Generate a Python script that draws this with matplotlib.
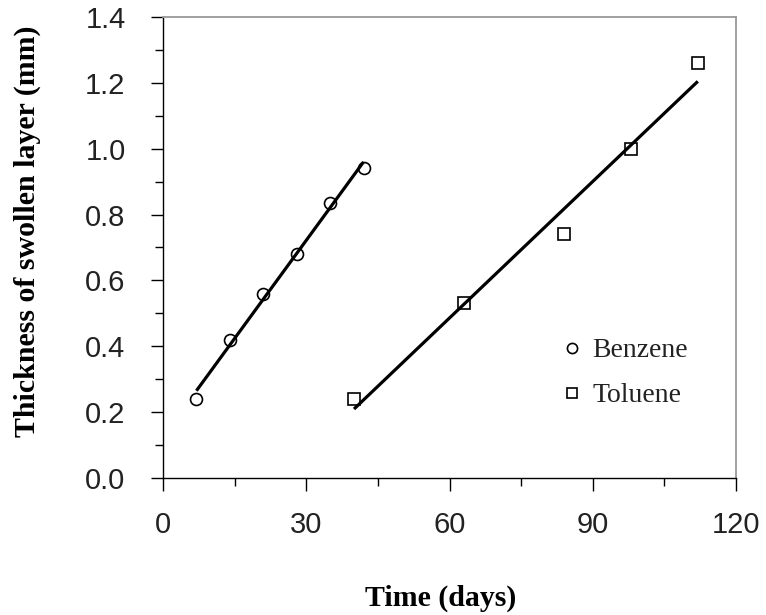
import numpy as np
import matplotlib
matplotlib.use("Agg")
import matplotlib.pyplot as plt
from matplotlib.ticker import MultipleLocator

# measured swelling data
benzene_days = [7, 14, 21, 28, 35, 42]
benzene_mm = [0.24, 0.42, 0.56, 0.68, 0.835, 0.94]

toluene_days = [40, 63, 84, 98, 112]
toluene_mm = [0.24, 0.53, 0.74, 1.00, 1.26]

x_ticks = [0, 30, 60, 90, 120]
y_ticks = [0.0, 0.2, 0.4, 0.6, 0.8, 1.0, 1.2, 1.4]

plt.rcParams["font.family"] = "Liberation Sans"

fig = plt.figure(figsize=(7.66, 6.15), dpi=100)
ax = fig.add_axes([163/766, 1-478/615, (736-163)/766, (478-17)/615])

# straight-line fits through each set
for xs, ys in [(benzene_days, benzene_mm), (toluene_days, toluene_mm)]:
    slope, icpt = np.polyfit(xs, ys, 1)
    xf = np.array([xs[0], xs[-1]])
    ax.plot(xf, slope*xf + icpt, color="black", lw=2.3, solid_capstyle="butt", zorder=2)

ax.plot(benzene_days, benzene_mm, "o", ms=8.6, mfc="none", mec="black", mew=1.2,
        label="Benzene", zorder=3)
ax.plot(toluene_days, toluene_mm, "s", ms=8.4, mfc="none", mec="black", mew=1.2,
        label="Toluene", zorder=3)

ax.set_xlim(0, 120)
ax.set_ylim(0, 1.4)
ax.set_xticks(x_ticks)
ax.set_yticks(y_ticks)
ax.set_yticklabels([f"{v:.1f}" for v in y_ticks])
ax.xaxis.set_minor_locator(MultipleLocator(15))
ax.yaxis.set_minor_locator(MultipleLocator(0.1))
ax.tick_params(which="major", direction="out", length=9, width=1, labelsize=21,
               labelcolor="#222222")
ax.tick_params(axis="y", which="major", pad=18)
ax.tick_params(axis="x", which="major", pad=15)
ax.tick_params(which="minor", direction="out", length=6, width=1)
ax.tick_params(top=False, right=False, which="both")

for s in ["left", "bottom"]:
    ax.spines[s].set_color("black")
    ax.spines[s].set_linewidth(1.0)
for s in ["top", "right"]:
    ax.spines[s].set_color("#999999")
    ax.spines[s].set_linewidth(1.3)

fig.text(441/766, 1-598/615, "Time (days)", ha="center", va="center",
         fontsize=21.5, fontweight="bold", family="Liberation Serif")
fig.text(27.5/766, 1-231/615, "Thickness of swollen layer (mm)", ha="center",
         va="center", rotation=90, fontsize=21.5, fontweight="bold",
         family="Liberation Serif")

leg = ax.legend(loc="upper left", bbox_to_anchor=(564/766, 1-338/615),
                bbox_transform=fig.transFigure, frameon=False, borderpad=0,
                borderaxespad=0, handlelength=0.6, handletextpad=0.42,
                labelspacing=0.7, markerscale=0.85,
                prop={"family": "Liberation Serif", "size": 20})
for t in leg.get_texts():
    t.set_color("#222222")

fig.savefig("out.png", dpi=100)
